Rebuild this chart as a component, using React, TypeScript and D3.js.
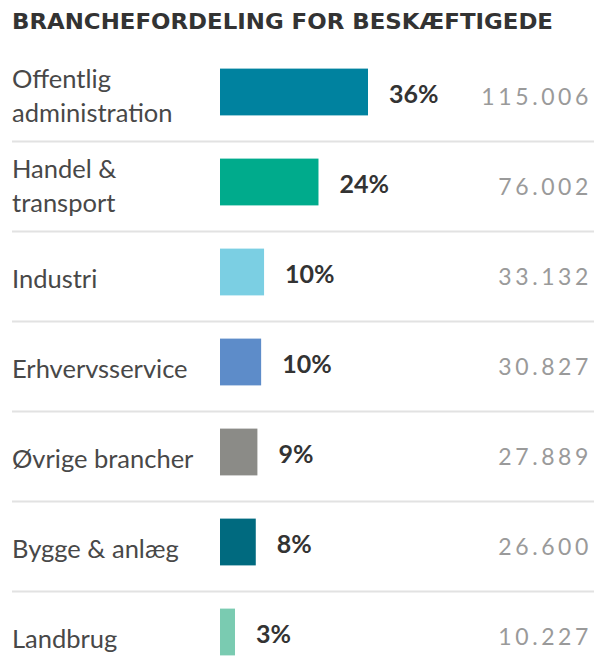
import React, { useRef, useEffect } from 'react';
import * as d3 from 'd3';

const categories = [
  ['Offentlig', 'administration'],
  ['Handel &', 'transport'],
  ['Industri'],
  ['Erhvervsservice'],
  ['Øvrige brancher'],
  ['Bygge & anlæg'],
  ['Landbrug'],
];
const employed = [115006, 76002, 33132, 30827, 27889, 26600, 10227];
const shares = [36, 24, 10, 10, 9, 8, 3];
const colors = ['#00829f', '#00ab8c', '#7bcfe3', '#5d8cc9', '#8b8b87', '#006a7f', '#7acbb1'];

const W = 594;
const H = 672;
const FONT = "Lato, 'Open Sans', sans-serif";

function App() {
  const ref = useRef<SVGSVGElement>(null);

  useEffect(() => {
    const svg = d3.select(ref.current);
    svg.selectAll('*').remove();

    const keys = categories.map((c) => c.join(' '));
    const y = d3.scaleBand<string>().domain(keys).range([47, 677]).paddingInner(0.48).paddingOuter(0.24);
    const x = d3.scaleLinear().domain([0, d3.max(employed) as number]).range([222, 368]);
    const fmt = d3.formatLocale({ decimal: ',', thousands: '.', grouping: [3], currency: ['', ' kr.'] }).format(',');

    // title, stretched to the width it has in the original
    svg.append('text')
      .attr('x', 12)
      .attr('y', 28.5)
      .attr('font-family', "'DejaVu Sans', sans-serif")
      .attr('font-weight', 700)
      .attr('font-size', 21)
      .attr('textLength', 541)
      .attr('lengthAdjust', 'spacingAndGlyphs')
      .attr('fill', '#333')
      .text('BRANCHEFORDELING FOR BESKÆFTIGEDE');

    const rows = svg.selectAll('g.row')
      .data(keys)
      .enter().append('g')
      .attr('class', 'row');

    rows.filter((d, i) => i < keys.length - 1)
      .append('line')
      .attr('x1', 12)
      .attr('x2', W)
      .attr('y1', (d) => (y(d) as number) + y.bandwidth() + 26)
      .attr('y2', (d) => (y(d) as number) + y.bandwidth() + 26)
      .attr('stroke', '#e2e2e2')
      .attr('stroke-width', 2);

    rows.append('rect')
      .attr('x', 220)
      .attr('y', (d) => y(d) as number)
      .attr('width', (d, i) => x(employed[i]) - 220)
      .attr('height', y.bandwidth())
      .attr('fill', (d, i) => colors[i]);

    rows.each(function (d, i) {
      const g = d3.select(this);
      const mid = (y(d) as number) + y.bandwidth() / 2;
      const lines = categories[i];
      const t = g.append('text')
        .attr('x', 12)
        .attr('font-family', FONT)
        .attr('font-size', 25.5)
        .attr('fill', '#484848');
      if (lines.length === 1) {
        t.append('tspan').attr('x', 12).attr('y', mid + 16).text(lines[0]);
      } else {
        t.append('tspan').attr('x', 12).attr('y', mid - 4).text(lines[0]);
        t.append('tspan').attr('x', 12).attr('y', mid + 30).text(lines[1]);
      }
    });

    rows.append('text')
      .attr('x', (d, i) => x(employed[i]) + 21)
      .attr('y', (d) => (y(d) as number) + y.bandwidth() / 2 + 10.5)
      .attr('font-family', FONT)
      .attr('font-weight', 700)
      .attr('font-size', 25)
      .attr('fill', '#333')
      .text((d, i) => shares[i] + '%');

    rows.append('text')
      .attr('x', 592)
      .attr('y', (d) => (y(d) as number) + y.bandwidth() / 2 + 12.5)
      .attr('text-anchor', 'end')
      .attr('font-family', FONT)
      .attr('font-size', 23)
      .attr('letter-spacing', 3.6)
      .attr('fill', '#9a9a9a')
      .text((d, i) => fmt(employed[i]));
  }, []);

  return (
    <svg ref={ref} width={W} height={H} style={{ position: 'absolute', left: 0, top: 0, background: '#fff' }}></svg>
  );
}

export default App;
